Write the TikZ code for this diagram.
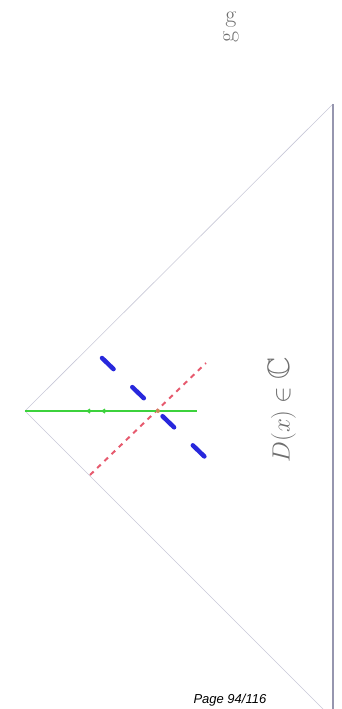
\documentclass[tikz,border=0pt]{standalone}
\usepackage{fontspec}
\usepackage{amssymb}
\newfontfamily\pagefont{Liberation Sans}
\usetikzlibrary{arrows.meta}
\definecolor{edgecol}{RGB}{200,200,215}
\definecolor{basecol}{RGB}{150,150,175}
\definecolor{bluecol}{RGB}{40,40,220}
\definecolor{redcol}{RGB}{230,90,110}
\definecolor{greencol}{RGB}{60,210,60}
\definecolor{dotcol}{RGB}{200,140,90}
\definecolor{textgray}{RGB}{110,110,110}
\begin{document}
\begin{tikzpicture}[x=1pt,y=-1pt,
  edge/.style={draw=edgecol, line width=0.6pt},
  baseln/.style={draw=basecol, line width=2.5pt},
  bluedash/.style={draw=bluecol, line width=4.5pt, line cap=round, dash pattern=on 16pt off 26pt},
  reddash/.style={draw=redcol, line width=2pt, dash pattern=on 5pt off 5pt},
  greenline/.style={color=greencol, line width=1.2pt},
  gtext/.style={text=textgray, font=\fontsize{24}{24}\selectfont, inner sep=0pt}]
\useasboundingbox (0,0) rectangle (341,709);
\coordinate (apex) at (25,411);
\coordinate (top) at (333,104);
\coordinate (bot) at (333,719);
\coordinate (bend) at (333,709);
\coordinate (gend) at (197,411);
\coordinate (x) at (158,411);
\coordinate (r1) at (90,475);
\coordinate (r2) at (206,363);
\coordinate (b1) at (102,358);
\coordinate (b2) at (206,458);
\begin{scope}
\clip (0,0) rectangle (341,709);
\draw[edge] (apex) -- (top);
\draw[edge] (apex) -- (bot);
\end{scope}
\draw[baseln] (top) -- (bend);
\draw[reddash] (r1) -- (r2);
\draw[bluedash] (b1) -- (b2);
\draw[greenline] (apex) -- (gend);
\draw[greenline, -{Straight Barb[length=3pt,width=4pt]}] (95,411) -- (86,411);
\draw[greenline, -{Straight Barb[length=3pt,width=4pt]}] (110,411) -- (101,411);
\fill[dotcol] (x) circle (2pt);
\node[rotate=90, text=textgray, font=\fontsize{31}{31}\selectfont] (dtext) at (282,410) {$D(x)\in\mathbb{C}$};
\node[gtext] (g1) at (231,20) {g};
\node[gtext, rotate=90] (g2) at (231,37) {g};
\node[font=\pagefont\itshape\fontsize{13}{13}\selectfont, anchor=base west] (page) at (190,703) {Page 94/116};
\end{tikzpicture}
\end{document}
